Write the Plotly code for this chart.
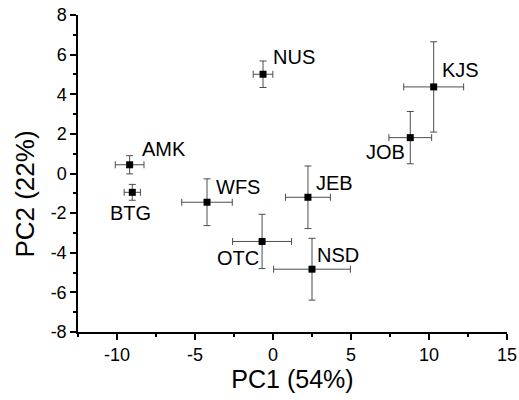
import plotly.graph_objects as go

names = ["AMK", "BTG", "WFS", "NUS", "KJS", "JOB", "JEB", "OTC", "NSD"]
pc1 = [-9.19, -9.02, -4.23, -0.64, 10.30, 8.80, 2.24, -0.70, 2.50]
pc2 = [0.44, -0.95, -1.45, 5.01, 4.37, 1.81, -1.20, -3.43, -4.83]
pc1_err = [0.92, 0.52, 1.62, 0.63, 1.92, 1.37, 1.44, 1.89, 2.46]
pc2_err = [0.46, 0.40, 1.18, 0.67, 2.28, 1.32, 1.58, 1.37, 1.56]

x_ticks = [-10, -5, 0, 5, 10, 15]
y_ticks = [-8, -6, -4, -2, 0, 2, 4, 6, 8]

# label placement (style): anchor, xshift, yshift
label_style = {
    "AMK": ("left", 10, 16),
    "BTG": ("center", -2, -21),
    "WFS": ("left", 7, 15),
    "NUS": ("left", 8, 17),
    "KJS": ("left", 6, 17),
    "JOB": ("right", -3, -14),
    "JEB": ("left", 6, 14),
    "OTC": ("right", -1, -17),
    "NSD": ("left", 3, 14),
}

font_family = "Liberation Sans, Arial, sans-serif"

fig = go.Figure()
fig.add_trace(go.Scatter(
    x=pc1, y=pc2, mode="markers",
    marker=dict(symbol="square", size=7, color="black"),
    error_x=dict(type="data", array=pc1_err, symmetric=True, color="#4d4d4d", thickness=1, width=3.5),
    error_y=dict(type="data", array=pc2_err, symmetric=True, color="#4d4d4d", thickness=1, width=3.5),
    showlegend=False, hoverinfo="skip",
))

for n, x, y in zip(names, pc1, pc2):
    anc, xs, ys = label_style[n]
    fig.add_annotation(
        x=x, y=y, text=n, showarrow=False,
        xanchor=anc, yanchor="middle", xshift=xs, yshift=ys,
        font=dict(family=font_family, size=20, color="black"),
    )

# y-axis title (placed as rotated text, lower than centre as in the reference)
fig.add_annotation(
    xref="paper", yref="paper", x=-0.124, y=0.436, text="PC2 (22%)",
    textangle=-90, showarrow=False, xanchor="center", yanchor="middle",
    font=dict(family=font_family, size=26, color="black"),
)

axis_common = dict(
    showgrid=False, zeroline=False, showline=True, linecolor="black", linewidth=1.5,
    ticks="outside", ticklen=6, tickwidth=1.5, tickcolor="black",
    tickfont=dict(family=font_family, size=18, color="black"),
    mirror=False, automargin=False,
)

fig.update_xaxes(
    range=[-12.5, 15], tickvals=x_ticks, ticktext=[str(v) for v in x_ticks],
    minor=dict(tickvals=[-12.5, -7.5, -2.5, 2.5, 7.5, 12.5], ticklen=3, tickwidth=1.5, tickcolor="black", ticks="outside"),
    title=dict(text="PC1 (54%)", font=dict(family=font_family, size=25, color="black"), standoff=2),
    **axis_common,
)
fig.update_yaxes(
    range=[-8, 8], tickvals=y_ticks, ticktext=[str(v) for v in y_ticks],
    minor=dict(tickvals=[-7, -5, -3, -1, 1, 3, 5, 7], ticklen=3, tickwidth=1.5, tickcolor="black", ticks="outside"),
    **axis_common,
)

fig.update_layout(
    width=519, height=400,
    margin=dict(l=78, r=12, t=15, b=68),
    plot_bgcolor="white", paper_bgcolor="white",
)

fig.write_html(
    "out.html",
    config={"displayModeBar": False},
    post_script="document.body.style.margin='0';document.body.style.overflow='hidden';",
)
